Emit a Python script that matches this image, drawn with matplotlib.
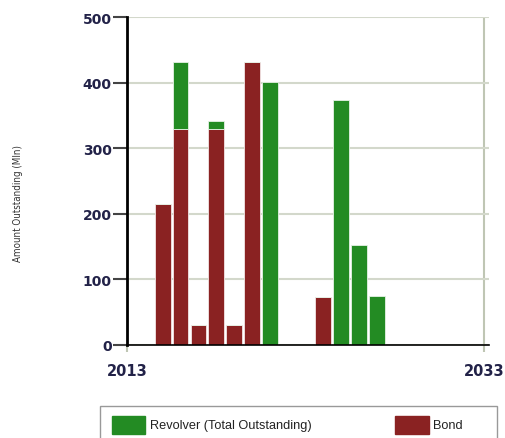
import numpy as np
import matplotlib
matplotlib.use('Agg')
import matplotlib.pyplot as plt
from matplotlib.patches import Rectangle

# Datos
years = [2015, 2016, 2017, 2018, 2019, 2020, 2021, 2024, 2025, 2026, 2027]
bond = [215, 330, 31, 330, 31, 432, 0, 73, 0, 0, 0]
revolver = [0, 102, 0, 11, 0, 0, 401, 0, 373, 152, 74]
y_ticks = [0, 100, 200, 300, 400, 500]
x_ticks = [2013, 2033]

GREEN = '#238b23'
RED = '#8a2222'
GRID = '#d3d8cb'
TICK_TXT = '#222248'

fig = plt.figure(figsize=(5.05, 4.39), dpi=100)
ax = fig.add_axes([127/505, 1 - 346/439, (489 - 127)/505, (346 - 18)/439])

ax.bar(years, bond, width=0.88, color=RED, edgecolor='#f2e6e6', linewidth=0.6, zorder=3)
ax.bar(years, revolver, width=0.88, bottom=bond, color=GREEN, edgecolor='#e6f2e6',
       linewidth=0.6, zorder=3)

ax.set_xlim(2013, 2033.28)
ax.set_ylim(0, 500)
ax.set_yticks(y_ticks)
ax.set_xticks(x_ticks)
ax.yaxis.grid(True, color=GRID, lw=1.5, zorder=0)
ax.xaxis.grid(True, color='#bfc6b4', lw=1.5, zorder=0)

for s in ['top', 'right']:
    ax.spines[s].set_visible(False)
ax.spines['left'].set_linewidth(2)
ax.spines['left'].set_color('black')
ax.spines['bottom'].set_linewidth(1.2)
ax.spines['bottom'].set_zorder(4)

ax.tick_params(axis='y', length=10, width=1.5, color='#444444', pad=1,
               labelsize=10, labelcolor=TICK_TXT)
ax.tick_params(axis='x', length=5, width=1.5, color='#bfc6b4', pad=8,
               labelsize=10.5, labelcolor=TICK_TXT)
for lab in ax.get_yticklabels() + ax.get_xticklabels():
    lab.set_fontweight('bold')

fig.text(18/505, 1 - 203/439, 'Amount Outstanding (Mln)', rotation=90,
         ha='center', va='center', fontsize=7, family='DejaVu Sans',
         fontstretch='condensed', color='#333333')

# Leyenda
fig.patches.append(Rectangle((100/505, -0.05), 397/505, 0.05 + 1 - 407/439,
                             transform=fig.transFigure, fill=False,
                             edgecolor='#999999', lw=1))
fig.patches.append(Rectangle((112/505, 1 - 435/439), 33/505, 18/439,
                             transform=fig.transFigure, color=GREEN))
fig.patches.append(Rectangle((395/505, 1 - 435/439), 34/505, 18/439,
                             transform=fig.transFigure, color=RED))
fig.text(150/505, 1 - 426/439, 'Revolver (Total Outstanding)', va='center',
         fontsize=9.2, family='Liberation Sans', color='#222222')
fig.text(433/505, 1 - 426/439, 'Bond', va='center',
         fontsize=9.2, family='Liberation Sans', color='#222222')

fig.savefig('out.png', dpi=100)
